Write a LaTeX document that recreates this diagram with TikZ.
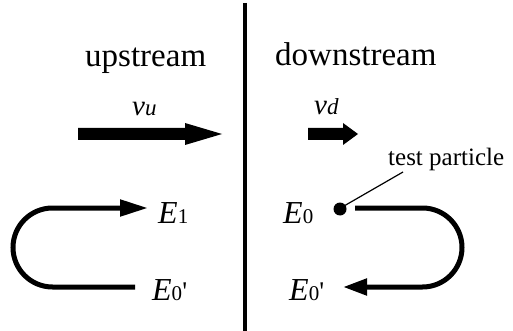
\documentclass[tikz,border=0pt]{standalone}
\usepackage{fontspec}
\setmainfont{Liberation Serif}
\usetikzlibrary{arrows.meta}
\newcommand{\Eit}[1]{{\fontsize{32}{32}\selectfont\itshape E}{\fontsize{21}{21}\selectfont #1}}
\newcommand{\Epr}{{\fontsize{32}{32}\selectfont\itshape E}{\fontsize{21}{21}\selectfont 0}{\fontsize{27}{27}\selectfont\textquotesingle}}
\newcommand{\vel}[1]{{\fontsize{29}{29}\selectfont\itshape v}{\fontsize{23}{23}\selectfont\itshape #1}}
\begin{document}
\begin{tikzpicture}[x=1pt,y=-1pt,
  lbl/.style={inner sep=0pt,anchor=base west},
  big/.style={lbl,font=\fontsize{33}{33}\selectfont},
  loop/.style={line width=5pt,rounded corners=39.5pt},
  blockarrow/.style={fill=black,draw=none}]
\useasboundingbox (0,0) rectangle (513,331);
% shock front
\coordinate (top) at (245,3);
\coordinate (bot) at (245,331);
\draw[line width=4pt] (top) -- (bot);
% region labels
\node[big] (up) at (85,67) {upstream};
\node[big] (down) at (275,66) {downstream};
% velocities
\node[lbl] (vu) at (132,116) {\vel{u}};
\node[lbl] (vd) at (314,115) {\vel{d}};
\fill[blockarrow] (78,128) -- (185,128) -- (185,123) -- (222,134) -- (185,145) -- (185,140) -- (78,140) -- cycle;
\fill[blockarrow] (308,128) -- (343,128) -- (343,123) -- (358,134) -- (343,145) -- (343,140) -- (308,140) -- cycle;
% upstream loop
\node[lbl] (E1) at (158,223) {\Eit{1}};
\node[lbl] (E0pl) at (152,300) {\Epr};
\coordinate (l1) at (135,287);
\coordinate (l2) at (148,208);
\draw[loop,-{Triangle[length=28pt,width=16pt]}] (l1) -- (13,287) -- (13,208) -- (l2);
% downstream loop
\node[lbl] (E0) at (283,223) {\Eit{0}};
\node[lbl] (E0pr) at (289,300) {\Epr};
\coordinate (r1) at (355,208);
\coordinate (r2) at (343,287);
\draw[loop,-{Triangle[length=24pt,width=16pt]}] (r1) -- (462,208) -- (462,287) -- (r2);
% test particle
\node[circle,fill=black,inner sep=0pt,minimum size=13pt] (dot) at (340,209) {};
\node[lbl,font=\fontsize{25}{25}\selectfont] (tp) at (388,165) {test particle};
\coordinate (lead) at (403,172);
\draw[line width=1.2pt] (dot.center) ++(4,-3) -- (lead);
\end{tikzpicture}
\end{document}
